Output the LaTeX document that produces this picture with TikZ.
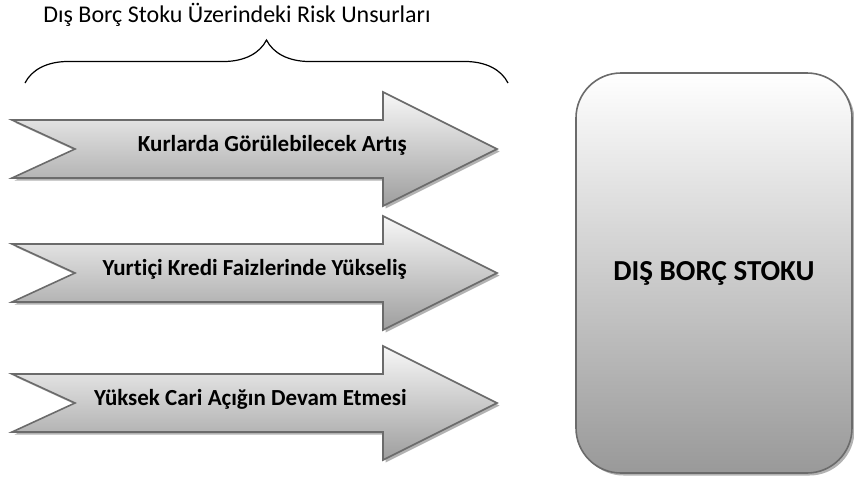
\documentclass[tikz,border=0pt]{standalone}
\usepackage{fontspec}
\setmainfont{Carlito}[Ligatures=CommonOff]
\usetikzlibrary{decorations.pathreplacing,shadows}

\tikzset{
	ok/.style={draw=black!58, line width=1.6pt, line join=miter,
		top color=black!3, bottom color=black!38,
		drop shadow={shadow xshift=2.5pt, shadow yshift=-2.5pt, fill=black!30, opacity=1}},
	oktext/.style={font=\fontsize{23}{27}\selectfont\bfseries, inner sep=0pt},
	kutu/.style={draw=black!58, line width=1.6pt, rounded corners=45pt,
		top color=white, bottom color=black!40,
		minimum width=276pt, minimum height=400pt,
		font=\fontsize{29}{34}\selectfont\bfseries,
		drop shadow={shadow xshift=2.5pt, shadow yshift=-2.5pt, fill=black!30, opacity=1}},
	baslik/.style={font=\fontsize{24}{28}\selectfont, inner sep=0pt},
	parantez/.style={line width=1.2pt, decorate, decoration={brace, amplitude=43pt}}
}

\begin{document}
\begin{tikzpicture}[x=1pt, y=-1pt]
		\useasboundingbox (0,0) rectangle (854,482);

		\node[baslik] (baslik) at (237,15) {Dış Borç Stoku Üzerindeki Risk Unsurları};
		\coordinate (sol) at (25,83);
		\coordinate (sag) at (508,83);
		\draw[parantez] (sol) -- (sag);

		\foreach \y/\ad/\metin in {149/kur/Kurlarda Görülebilecek Artış,
			273/faiz/Yurtiçi Kredi Faizlerinde Yükseliş,
			403/cari/Yüksek Cari Açığın Devam Etmesi}{
			\draw[ok] (12,\y-29) -- (383,\y-29) -- (383,\y-57) -- (497,\y)
				-- (383,\y+57) -- (383,\y+29) -- (12,\y+29) -- (75,\y) -- cycle;
			\node[oktext, anchor=east] (\ad) at (407,\y-4) {\metin};
		}

		\node[kutu] (stok) at (714,273) {DIŞ BORÇ STOKU};
	\end{tikzpicture}
\end{document}
